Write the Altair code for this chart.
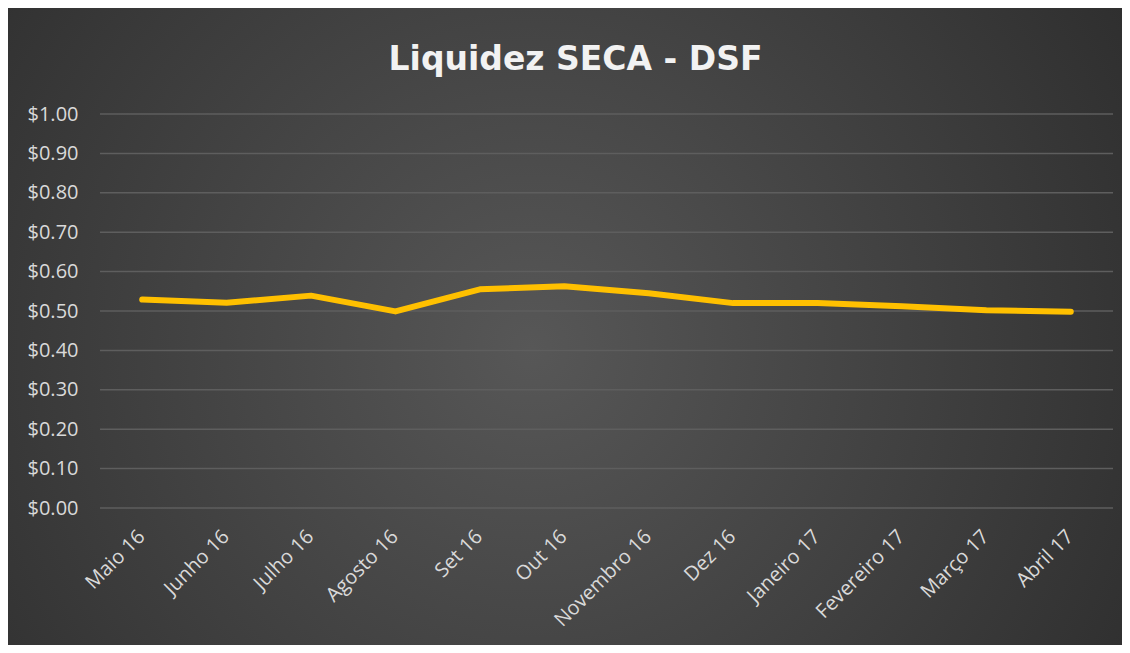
import altair as alt
import pandas as pd

months = ["Maio 16", "Junho 16", "Julho 16", "Agosto 16", "Set 16", "Out 16",
          "Novembro 16", "Dez 16", "Janeiro 17", "Fevereiro 17", "Março 17", "Abril 17"]
values = [0.529, 0.521, 0.539, 0.499, 0.555, 0.563, 0.545, 0.520, 0.520, 0.512, 0.502, 0.498]
y_ticks = [0.0, 0.1, 0.2, 0.3, 0.4, 0.5, 0.6, 0.7, 0.8, 0.9, 1.0]
title_text = "Liquidez SECA - DSF"

df = pd.DataFrame({"mes": months, "valor": values})
grid_df = pd.DataFrame({"t": y_ticks})
bg_df = pd.DataFrame({"a": [0]})

W, H = 1013, 394
PL, PT, PR, PB = 92, 106, 9, 137

font = "Open Sans"

y_scale = alt.Scale(domain=[0, 1])
y_axis = alt.Axis(values=y_ticks, format="$.2f", title=None, labelColor="#d9d9d9",
                  labelFont=font, labelFontSize=20, labelPadding=22, ticks=False,
                  domain=False, grid=False, zindex=1, labelOverlap=False)
x_enc = alt.X("mes:N", sort=months, scale=alt.Scale(paddingInner=0, paddingOuter=0.0),
              axis=alt.Axis(title=None, labelAngle=-45, labelColor="#d9d9d9", labelFont=font,
                            labelFontSize=20, labelPadding=18, labelOffset=-8, ticks=False,
                            domain=False, grid=False, zindex=1, labelOverlap=False))

bg = alt.Chart(bg_df).mark_rect(
    color={"gradient": "radial", "x1": 0.47, "y1": 0.52, "r1": 0, "x2": 0.47, "y2": 0.52, "r2": 0.72,
           "stops": [{"offset": 0, "color": "#575757"}, {"offset": 1, "color": "#282828"}]}
).encode(x=alt.value(-PL), x2=alt.value(W + PR), y=alt.value(-PT), y2=alt.value(H + PB))

title = alt.Chart(bg_df).mark_text(
    text=title_text, font="DejaVu Sans", fontSize=33, fontWeight="bold", color="#f2f2f2",
    align="center", baseline="alphabetic"
).encode(x=alt.value(W / 2 - 31), y=alt.value(-44))

grid = alt.Chart(grid_df).mark_rule(color="#5e5e5e", strokeWidth=1.5).encode(
    y=alt.Y("t:Q", scale=y_scale, axis=y_axis),
    x=alt.value(0), x2=alt.value(W)
)

line = alt.Chart(df).mark_line(color="#FFC000", strokeWidth=6, strokeCap="round", strokeJoin="round").encode(
    x=x_enc,
    y=alt.Y("valor:Q", scale=y_scale, axis=y_axis)
)

chart = alt.layer(bg, title, grid, line).properties(
    width=W, height=H,
    padding={"left": PL, "top": PT, "right": PR, "bottom": PB},
    autosize=alt.AutoSizeParams(type="none"),
    background="#2f2f2f",
).configure_view(stroke=None)

chart.save("out.html", embed_options={"renderer": "svg", "actions": False})
